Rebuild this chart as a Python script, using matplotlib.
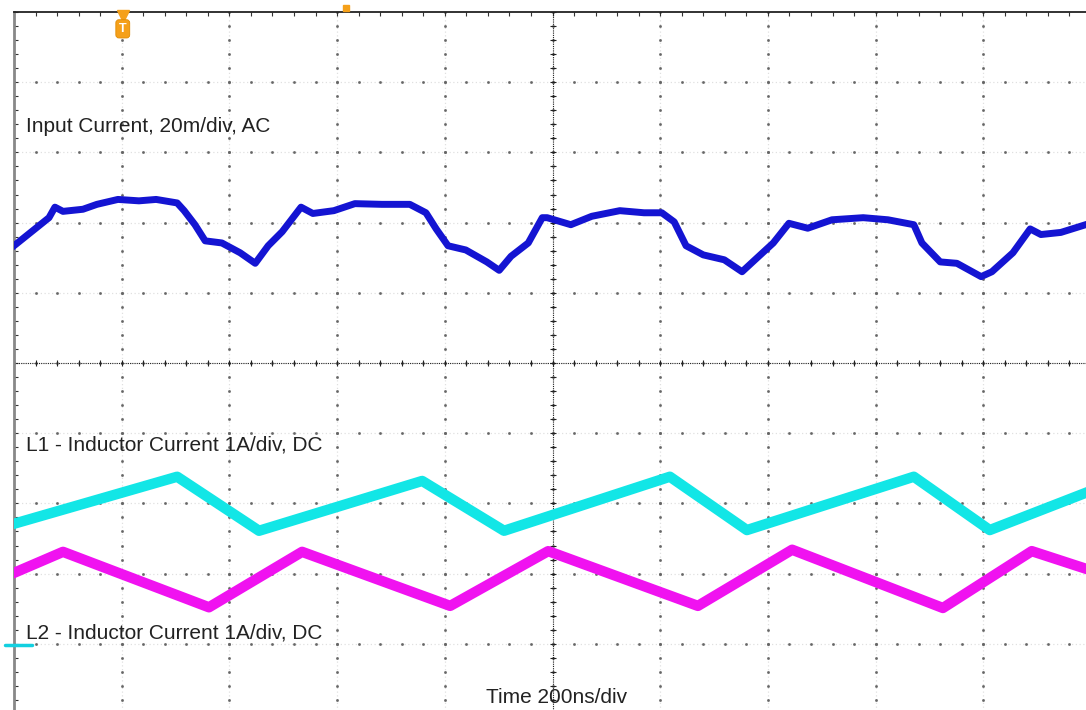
import numpy as np
import matplotlib
matplotlib.use("Agg")
import matplotlib.pyplot as plt

# scope traces: time in ns (200 ns/div), level in screen divisions
t_in = [0, 39, 65, 76, 91, 128, 154, 193, 232, 264, 303, 316, 336, 355, 386, 420, 448,
        472, 498, 533, 555, 594, 633, 683, 735, 765, 784, 806, 839, 878, 901, 923, 955,
        981, 990, 1034, 1073, 1125, 1170, 1203, 1226, 1248, 1280, 1319, 1352, 1376, 1410,
        1439, 1474, 1519, 1577, 1623, 1671, 1686, 1720, 1751, 1796, 1816, 1855, 1887,
        1907, 1944, 1990]
v_in = [1.67, 1.91, 2.07, 2.22, 2.16, 2.19, 2.26, 2.33, 2.31, 2.33, 2.28, 2.17, 1.97, 1.74,
        1.71, 1.57, 1.42, 1.67, 1.87, 2.22, 2.13, 2.17, 2.27, 2.26, 2.26, 2.14, 1.91, 1.67,
        1.61, 1.44, 1.32, 1.52, 1.71, 2.07, 2.07, 1.97, 2.09, 2.17, 2.14, 2.14, 2.01, 1.67,
        1.54, 1.47, 1.30, 1.47, 1.71, 1.99, 1.92, 2.04, 2.07, 2.04, 1.97, 1.71, 1.44, 1.42,
        1.23, 1.30, 1.57, 1.91, 1.83, 1.86, 1.97]

t_l1 = [0, 303, 455, 758, 910, 1218, 1361, 1671, 1812, 1990]
v_l1 = [-2.29, -1.62, -2.39, -1.68, -2.39, -1.62, -2.38, -1.62, -2.38, -1.85]

t_l2 = [0, 91, 362, 535, 810, 992, 1270, 1445, 1725, 1890, 1990]
v_l2 = [-2.99, -2.69, -3.48, -2.69, -3.46, -2.68, -3.46, -2.66, -3.49, -2.68, -2.93]

labels = ["Input Current, 20m/div, AC",
          "L1 - Inductor Current 1A/div, DC",
          "L2 - Inductor Current 1A/div, DC"]
label_y = [3.37, -1.17, -3.84]
time_label = "Time 200ns/div"

plt.rcParams['font.family'] = ['Liberation Sans', 'DejaVu Sans']

fig = plt.figure(figsize=(10.86, 7.10), dpi=100)
ax = fig.add_axes([14/1086, -0.00563, 1077/1086, 702/710])
ax.set_xlim(0, 2000)
ax.set_ylim(-5, 5)

# graticule: faint dotted major lines with small dots every minor step
xs_major = np.arange(200, 2000, 200)
ys_major = np.arange(-4, 5, 1)
xs_minor = np.arange(0, 2001, 40)
ys_minor = np.arange(-5, 5.01, 0.2)
for x in xs_major:
    ax.axvline(x, color='#e0e0e0', lw=0.9, ls=(0, (1, 2)), zorder=1)
    ax.plot([x] * len(ys_minor), ys_minor, ls='none', marker='s', ms=0.9,
            color='#666666', zorder=1.5)
for y in ys_major:
    ax.axhline(y, color='#e0e0e0', lw=0.9, ls=(0, (1, 2)), zorder=1)
    ax.plot(xs_minor, [y] * len(xs_minor), ls='none', marker='s', ms=0.9,
            color='#666666', zorder=1.5)

# centre crosshair with tick marks
ax.axhline(0, color='#222222', lw=0.8, ls=(0, (1, 1)), zorder=2)
ax.axvline(1000, color='#222222', lw=0.8, ls=(0, (1, 1)), zorder=2)
ax.plot(xs_minor, np.zeros(len(xs_minor)), ls='none', marker='|', ms=4,
        mew=0.8, color='#222222', zorder=2)
ax.plot(np.full(len(ys_minor), 1000), ys_minor, ls='none', marker='_', ms=5,
        mew=0.8, color='#222222', zorder=2)

# traces
ax.plot(t_l1, v_l1, color='#12E6E6', lw=7.5, solid_joinstyle='round', zorder=3)
ax.plot(t_l2, v_l2, color='#F012F0', lw=7.5, solid_joinstyle='round', zorder=3)
ax.plot(t_in, v_in, color='#1414D2', lw=5, solid_joinstyle='round', zorder=4)

# labels
for txt, yy in zip(labels, label_y):
    ax.text(22, yy, txt, fontsize=15, color='#222222', va='center', ha='left', zorder=5)
ax.text(1007, -4.77, time_label, fontsize=15, color='#222222', va='center',
        ha='center', zorder=5)

# trigger marker and channel markers
ax.plot([202], [4.95], marker='v', ms=8, color='#F5A01A', clip_on=False, zorder=6)
ax.text(202, 4.76, "T", fontsize=9, fontweight='bold', color='white', ha='center',
        va='center', zorder=6,
        bbox=dict(boxstyle='round,pad=0.25', fc='#F5A01A', ec='#E08A00', lw=0.6))
ax.plot([617], [5.06], marker='s', ms=5, color='#F5A01A', clip_on=False, zorder=6)
ax.plot([-17, 33], [-4.02, -4.02], color='#12D0E0', lw=2.5, clip_on=False,
        solid_capstyle='round', zorder=6)

# frame: dark top edge and grey left edge with inward ticks
for side in ['bottom', 'right']:
    ax.spines[side].set_visible(False)
ax.spines['top'].set_color('#222222')
ax.spines['top'].set_linewidth(1.3)
ax.spines['left'].set_color('#888888')
ax.spines['left'].set_linewidth(2)
ax.set_xticks(xs_minor)
ax.set_yticks(ys_minor)
ax.tick_params(axis='x', which='both', direction='in', top=True, bottom=False,
               length=3, width=0.8, color='#333333', labeltop=False, labelbottom=False)
ax.tick_params(axis='y', which='both', direction='in', left=True, right=False,
               length=3, width=0.8, color='#333333', labelleft=False)

fig.savefig("out.png", dpi=100)
